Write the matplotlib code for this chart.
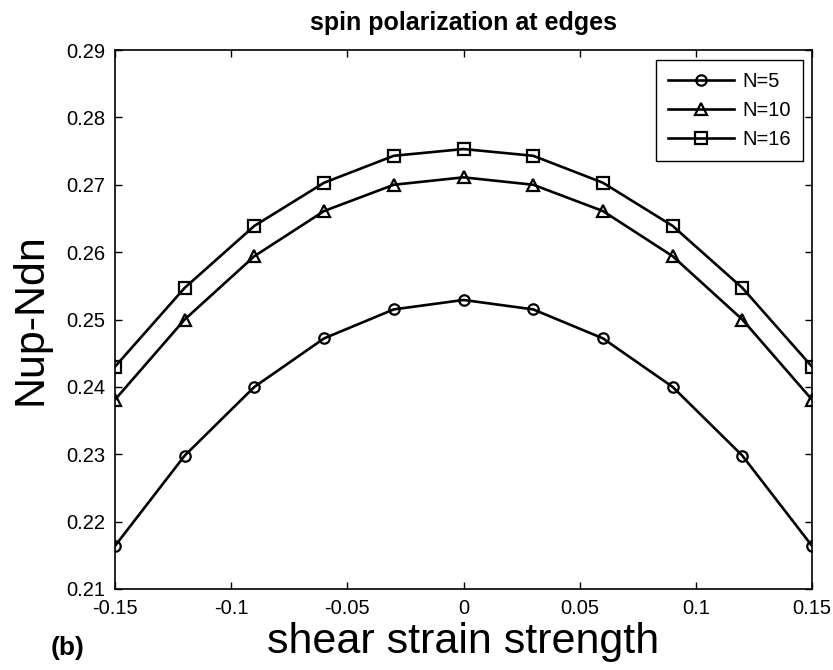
import matplotlib
matplotlib.use("Agg")
import matplotlib.pyplot as plt

plt.rcParams['font.family'] = ['Liberation Sans', 'DejaVu Sans']

strain = [-0.15, -0.12, -0.09, -0.06, -0.03, 0.0, 0.03, 0.06, 0.09, 0.12, 0.15]
n5 = [0.2164, 0.2298, 0.2400, 0.2472, 0.2515, 0.2529, 0.2515, 0.2472, 0.2400, 0.2298, 0.2164]
n10 = [0.2381, 0.2500, 0.2594, 0.2661, 0.2700, 0.2711, 0.2700, 0.2661, 0.2594, 0.2500, 0.2381]
n16 = [0.2430, 0.2547, 0.2639, 0.2703, 0.2743, 0.2753, 0.2743, 0.2703, 0.2639, 0.2547, 0.2430]
series_labels = ['N=5', 'N=10', 'N=16']
xticks = [-0.15, -0.1, -0.05, 0, 0.05, 0.1, 0.15]
xtick_labels = ['-0.15', '-0.1', '-0.05', '0', '0.05', '0.1', '0.15']
yticks = [0.21, 0.22, 0.23, 0.24, 0.25, 0.26, 0.27, 0.28, 0.29]
ytick_labels = ['0.21', '0.22', '0.23', '0.24', '0.25', '0.26', '0.27', '0.28', '0.29']

fig = plt.figure(figsize=(8.33, 6.70), dpi=100)
ax = fig.add_axes([115/833, 1-589/670, 697/833, 539/670])

styles = [('o', 7.5), ('^', 9), ('s', 9)]
for vals, lab, (m, ms) in zip([n5, n10, n16], series_labels, styles):
    ax.plot(strain, vals, color='black', lw=1.9, marker=m, ms=ms,
            mfc='none', mec='black', mew=1.6, label=lab)

ax.set_xlim(-0.15, 0.15)
ax.set_ylim(0.21, 0.29)
ax.set_xticks(xticks)
ax.set_xticklabels(xtick_labels)
ax.set_yticks(yticks)
ax.set_yticklabels(ytick_labels)
ax.tick_params(direction='in', length=5, width=1, top=True, right=True,
               labelsize=14.5, pad=7)
for s in ax.spines.values():
    s.set_linewidth(1.2)

ax.set_title('spin polarization at edges', fontsize=18, fontweight='bold',
             y=(589-30)/539, va='baseline', pad=0)
ax.set_xlabel('shear strain strength', fontsize=31, va='baseline')
ax.xaxis.set_label_coords(0.5, (589-653)/539)
ax.set_ylabel('Nup-Ndn', fontsize=31)
ax.yaxis.set_label_coords((51-115)/697, 0.5)

leg = ax.legend(loc='upper right', bbox_to_anchor=((803-115)/697, (589-60)/539),
                borderaxespad=0, fontsize=14.5, numpoints=1, handlelength=3.3,
                handletextpad=0.4, labelspacing=0.5, fancybox=False,
                framealpha=1, edgecolor='black', borderpad=0.6)
leg.get_frame().set_linewidth(1.0)

fig.text(51/833, 1-655/670, '(b)', fontsize=19, fontweight='bold', va='baseline')

fig.savefig('out.png', dpi=100)
